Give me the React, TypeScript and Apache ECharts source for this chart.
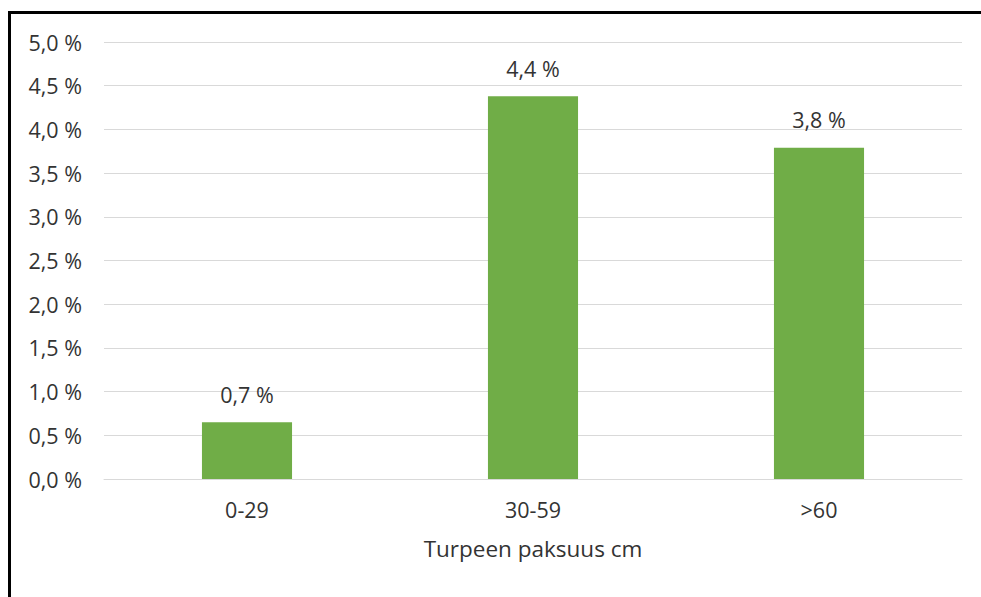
import React, { useEffect, useRef } from "react";
import * as echarts from "echarts";

const categories = ["0-29", "30-59", ">60"];
const values = [0.65, 4.38, 3.79];
const yTicks = [0, 0.5, 1, 1.5, 2, 2.5, 3, 3.5, 4, 4.5, 5];
const xTitle = "Turpeen paksuus cm";

const FONT = "'Open Sans', sans-serif";
const TEXT = "#333333";
const SIZE = 21.5;

const fmt = (v: number) => v.toFixed(1).replace(".", ",") + " %";

export default function App() {
  const ref = useRef<HTMLDivElement>(null);

  useEffect(() => {
    if (!ref.current) return;
    const chart = echarts.init(ref.current, null, { renderer: "svg" });
    chart.setOption({
      animation: false,
      backgroundColor: "#ffffff",
      textStyle: { fontFamily: FONT },
      grid: { left: 104, right: 19, top: 42, bottom: 118, containLabel: false },
      xAxis: {
        type: "category",
        data: categories,
        name: xTitle,
        nameLocation: "middle",
        nameGap: 58,
        nameTextStyle: { fontFamily: FONT, fontSize: 22.5, color: TEXT },
        axisLine: { show: true, lineStyle: { color: "#d9d9d9", width: 1 } },
        axisTick: { show: false },
        axisLabel: { fontFamily: FONT, fontSize: SIZE, color: TEXT, margin: 19 },
      },
      yAxis: {
        type: "value",
        min: yTicks[0],
        max: yTicks[yTicks.length - 1],
        interval: 0.5,
        axisLine: { show: false },
        axisTick: { show: false },
        axisLabel: {
          fontFamily: FONT,
          fontSize: SIZE,
          color: TEXT,
          margin: 22,
          formatter: (v: number) => fmt(v),
        },
        splitLine: { lineStyle: { color: "#d9d9d9", width: 1 } },
      },
      series: [
        {
          type: "bar",
          data: values,
          barWidth: "31.5%",
          itemStyle: { color: "#70ad47" },
          label: {
            show: true,
            position: "top",
            distance: 17,
            fontFamily: FONT,
            fontSize: SIZE,
            color: TEXT,
            formatter: (p: any) => fmt(p.value),
          },
        },
      ],
      graphic: [
        {
          type: "line",
          shape: { x1: 9.5, y1: 11, x2: 9.5, y2: 597 },
          style: { stroke: "#000", lineWidth: 3 },
        },
        {
          type: "line",
          shape: { x1: 8, y1: 12.5, x2: 981, y2: 12.5 },
          style: { stroke: "#000", lineWidth: 3 },
        },
      ],
    });
    return () => chart.dispose();
  }, []);

  return (
    <div
      ref={ref}
      style={{ position: "fixed", left: 0, top: 0, width: 981, height: 597 }}
    />
  );
}
